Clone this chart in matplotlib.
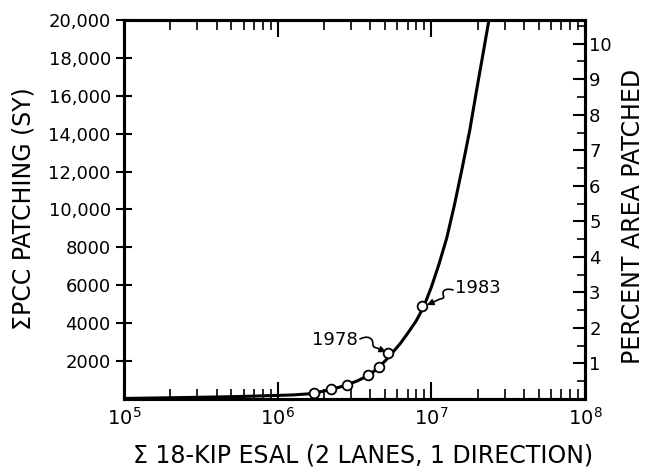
import matplotlib
matplotlib.use("Agg")
import matplotlib.pyplot as plt
from matplotlib.ticker import FixedLocator, NullFormatter, LogLocator
from matplotlib.patches import FancyArrowPatch
from matplotlib.path import Path

# traced curve: cumulative ESAL vs cumulative PCC patching (SY)
esal_curve = [1.0e5, 1.8e5, 3.1e5, 5.6e5, 1.0e6, 1.26e6, 1.58e6, 1.72e6, 2.0e6, 2.24e6,
              2.51e6, 2.81e6, 3.31e6, 3.9e6, 4.54e6, 5.33e6, 6.31e6, 6.95e6, 7.94e6,
              8.9e6, 1.0e7, 1.12e7, 1.26e7, 1.41e7, 1.58e7, 1.78e7, 2.0e7, 2.19e7, 2.37e7]
sy_curve = [30, 60, 90, 130, 190, 215, 270, 310, 420, 520,
            620, 740, 960, 1250, 1650, 2250, 2950, 3420, 4100,
            4850, 5900, 7100, 8500, 10200, 12100, 14200, 16600, 18400, 20000]

# observed points
esal_pts = [1.72e6, 2.24e6, 2.81e6, 3.9e6, 4.54e6, 5.26e6, 8.75e6]
sy_pts = [317, 528, 740, 1266, 1690, 2430, 4900]

y_ticks = [2000, 4000, 6000, 8000, 10000, 12000, 14000, 16000, 18000, 20000]
y_labels = ["2000", "4000", "6000", "8000", "10,000", "12,000", "14,000", "16,000", "18,000", "20,000"]
x_ticks = [1e5, 1e6, 1e7, 1e8]
x_labels = [r"$10^5$", r"$10^6$", r"$10^7$", r"$10^8$"]
pct_ticks = [1, 2, 3, 4, 5, 6, 7, 8, 9, 10]
sy_per_pct = 1875

plt.rcParams["font.family"] = "DejaVu Sans"
plt.rcParams["mathtext.default"] = "regular"

W, H = 649, 470
L, R, T, B = 124, 585, 20, 399

fig = plt.figure(figsize=(W / 100, H / 100), dpi=100)
ax = fig.add_axes([L / W, 1 - B / H, (R - L) / W, (B - T) / H])


def px(x, y):
    # pixel position in the picture -> axes fraction
    return ((x - L) / (R - L), (B - y) / (B - T))


ax.plot(esal_curve, sy_curve, color="black", lw=2.2, zorder=2)
ax.plot(esal_pts, sy_pts, "o", ms=7, mfc="white", mec="black", mew=1.3, zorder=3)

ax.set_xscale("log")
ax.set_xlim(1e5, 1e8)
ax.set_ylim(0, 20000)

ax.set_xticks(x_ticks)
ax.set_xticklabels(x_labels, fontsize=14)
ax.xaxis.set_minor_locator(LogLocator(base=10, subs=range(2, 10), numticks=20))
ax.xaxis.set_minor_formatter(NullFormatter())
ax.set_yticks(y_ticks)
ax.set_yticklabels(y_labels, fontsize=13)

ax.tick_params(axis="x", which="major", direction="in", length=12, width=1.5, top=True, pad=6)
ax.tick_params(axis="x", which="minor", direction="in", length=7, width=1.2, top=True)
ax.tick_params(axis="y", which="major", direction="inout", length=12, width=1.5, right=False)

for s in ax.spines.values():
    s.set_linewidth(2.2)

ax2 = ax.twinx()
ax2.set_ylim(0, 20000 / sy_per_pct)
ax2.yaxis.set_major_locator(FixedLocator(pct_ticks))
ax2.yaxis.set_minor_locator(FixedLocator([p - 0.5 for p in pct_ticks] + [10.5]))
ax2.set_yticklabels([str(p) for p in pct_ticks], fontsize=13)
ax2.tick_params(axis="y", which="major", direction="in", length=9, width=1.5, pad=3)
ax2.tick_params(axis="y", which="minor", direction="in", length=6, width=1.2)
for s in ax2.spines.values():
    s.set_linewidth(2.2)

# year labels with little wavy leader arrows
ax.text(2.35e6, 3110, "1978", fontsize=13, ha="center", va="center")
ax.text(2.02e7, 5860, "1983", fontsize=13, ha="center", va="center")

C4, LT, MT = Path.CURVE4, Path.LINETO, Path.MOVETO
squiggles = [
    [px(360, 339), px(366, 336), px(370, 337), px(372, 340),
     px(374, 344), px(371, 347), px(377, 348), px(386, 352)],
    [px(453, 290), px(447, 288), px(443, 290), px(443, 293),
     px(443, 297), px(446, 298), px(440, 299), px(427, 305)],
]
for verts in squiggles:
    path = Path(verts, [MT, C4, C4, C4, C4, C4, C4, LT])
    ax.add_patch(FancyArrowPatch(path=path, transform=ax.transAxes, arrowstyle="-|>",
                                 mutation_scale=9, lw=1.2, color="black", zorder=4))

fig.text(24 / W, 1 - 209 / H, "ΣPCC PATCHING (SY)", rotation=90,
         ha="center", va="center", fontsize=17)
fig.text(633 / W, 1 - 216 / H, "PERCENT AREA PATCHED", rotation=90,
         ha="center", va="center", fontsize=17)
fig.text(363 / W, 1 - 455 / H, "Σ 18-KIP ESAL (2 LANES, 1 DIRECTION)",
         ha="center", va="center", fontsize=17)

fig.savefig("out.png", dpi=100)
